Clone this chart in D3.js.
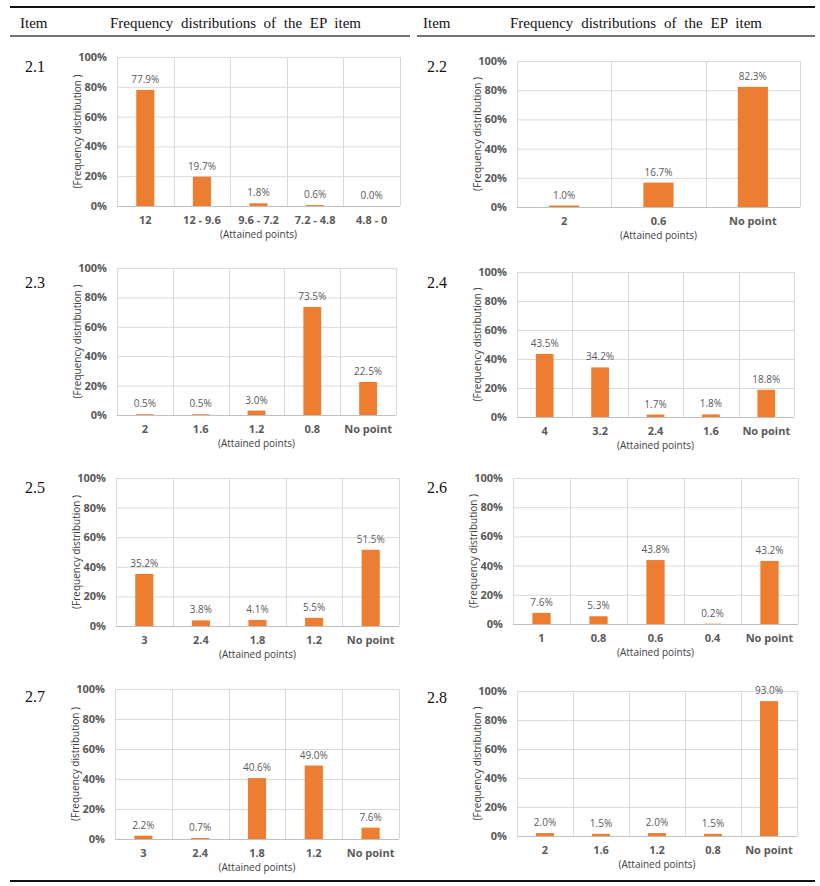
<!DOCTYPE html>
<html><head><meta charset="utf-8">
<script src="https://cdn.jsdelivr.net/npm/d3@7"></script>
<style>
body{margin:0;background:#fff;}
svg{display:block;}
</style></head>
<body>
<script>
// ---- data ----
const headerItem = "Item";
const headerTitle = "Frequency distributions of the EP item";
const yTitle = "(Frequency distribution )";
const xTitle = "(Attained points)";
const yTicks = [0, 20, 40, 60, 80, 100];

const items = ["2.1", "2.2", "2.3", "2.4", "2.5", "2.6", "2.7", "2.8"];
const cats21 = ["12", "12 - 9.6", "9.6 - 7.2", "7.2 - 4.8", "4.8 - 0"];
const vals21 = [77.9, 19.7, 1.8, 0.6, 0.0];
const cats22 = ["2", "0.6", "No point"];
const vals22 = [1.0, 16.7, 82.3];
const cats23 = ["2", "1.6", "1.2", "0.8", "No point"];
const vals23 = [0.5, 0.5, 3.0, 73.5, 22.5];
const cats24 = ["4", "3.2", "2.4", "1.6", "No point"];
const vals24 = [43.5, 34.2, 1.7, 1.8, 18.8];
const cats25 = ["3", "2.4", "1.8", "1.2", "No point"];
const vals25 = [35.2, 3.8, 4.1, 5.5, 51.5];
const cats26 = ["1", "0.8", "0.6", "0.4", "No point"];
const vals26 = [7.6, 5.3, 43.8, 0.2, 43.2];
const cats27 = ["3", "2.4", "1.8", "1.2", "No point"];
const vals27 = [2.2, 0.7, 40.6, 49.0, 7.6];
const cats28 = ["2", "1.6", "1.2", "0.8", "No point"];
const vals28 = [2.0, 1.5, 2.0, 1.5, 93.0];

const catsList = [cats21, cats22, cats23, cats24, cats25, cats26, cats27, cats28];
const valsList = [vals21, vals22, vals23, vals24, vals25, vals26, vals27, vals28];

// ---- layout ----
const W = 820, H = 886;
const panels = [
  {l:117, r:400, t:57,  b:206, ix:25,  iy:72},
  {l:517, r:800, t:61,  b:207, ix:427, iy:72},
  {l:117, r:396, t:268, b:415, ix:25,  iy:288},
  {l:517, r:794, t:272, b:417, ix:427, iy:288},
  {l:116, r:399, t:478, b:626, ix:25,  iy:493},
  {l:513, r:798, t:478, b:624, ix:427, iy:493},
  {l:115, r:399, t:689, b:839, ix:25,  iy:702},
  {l:517, r:797, t:691, b:836, ix:427, iy:703}
];
const orange = "#ED7D31";
const gray = "#595959";
const grid = "#d9d9d9";
const sans = "'Open Sans', 'Noto Sans', sans-serif";
const serif = "'Liberation Serif', 'Times New Roman', serif";

const svg = d3.select("body").append("svg").attr("width", W).attr("height", H);

// table rules
svg.append("line").attr("x1",10).attr("x2",815).attr("y1",7).attr("y2",7)
  .attr("stroke","#111").attr("stroke-width",2);
svg.append("line").attr("x1",10).attr("x2",410).attr("y1",36).attr("y2",36)
  .attr("stroke","#444").attr("stroke-width",1.5);
svg.append("line").attr("x1",417).attr("x2",815).attr("y1",36).attr("y2",36)
  .attr("stroke","#444").attr("stroke-width",1.5);
svg.append("line").attr("x1",10).attr("x2",815).attr("y1",881).attr("y2",881)
  .attr("stroke","#111").attr("stroke-width",2);

// headers
[{ix:20, tx:110, tw:251}, {ix:423, tx:510, tw:252}].forEach(h => {
  svg.append("text").attr("x",h.ix).attr("y",28).text(headerItem)
    .attr("font-family",serif).attr("font-size",15).attr("fill","#111");
  const t = svg.append("text").attr("x",h.tx).attr("y",28).text(headerTitle)
    .attr("font-family",serif).attr("font-size",15).attr("fill","#111");
  const len = t.node().getComputedTextLength();
  const spaces = headerTitle.split(" ").length - 1;
  t.attr("word-spacing", ((h.tw - len) / spaces).toFixed(2));
});

panels.forEach((p, i) => {
  const cats = catsList[i], vals = valsList[i];
  const g = svg.append("g");
  const x = d3.scaleBand().domain(cats).range([p.l, p.r]).paddingInner(0).paddingOuter(0);
  const y = d3.scaleLinear().domain([0, 100]).range([p.b, p.t]);

  // item label
  svg.append("text").attr("x",p.ix).attr("y",p.iy).text(items[i])
    .attr("font-family",serif).attr("font-size",16).attr("fill","#111");

  // horizontal grid
  g.selectAll("line.h").data(yTicks.filter(d => d > 0)).join("line")
    .attr("x1",p.l).attr("x2",p.r).attr("y1",d => y(d)+0.5).attr("y2",d => y(d)+0.5)
    .attr("stroke",grid).attr("stroke-width",1);
  // vertical separators
  const bounds = cats.map(c => x(c)).concat([p.r]);
  g.selectAll("line.v").data(bounds).join("line")
    .attr("x1",d => Math.round(d)+0.5).attr("x2",d => Math.round(d)+0.5)
    .attr("y1",p.t).attr("y2",p.b)
    .attr("stroke",grid).attr("stroke-width",1);
  // baseline
  g.append("line").attr("x1",p.l).attr("x2",p.r).attr("y1",y(0)+0.5).attr("y2",y(0)+0.5)
    .attr("stroke","#bfbfbf").attr("stroke-width",1);

  // y axis labels
  const ya = d3.axisLeft(y).tickValues(yTicks).tickFormat(d => d + "%").tickSize(0).tickPadding(10);
  const yg = g.append("g").attr("transform",`translate(${p.l},0)`).call(ya);
  yg.select(".domain").remove();
  yg.selectAll("text").attr("font-family",sans).attr("font-size",11).attr("font-weight","bold").attr("fill",gray);

  // x axis labels
  const xa = d3.axisBottom(x).tickSize(0).tickPadding(10);
  const xg = g.append("g").attr("transform",`translate(0,${p.b})`).call(xa);
  xg.select(".domain").remove();
  xg.selectAll("text").attr("font-family",sans).attr("font-size",11).attr("font-weight","bold").attr("fill",gray);

  // bars
  const bw = x.bandwidth() * 0.32;
  g.selectAll("rect.bar").data(vals).join("rect")
    .attr("x",(d,j) => x(cats[j]) + (x.bandwidth() - bw)/2)
    .attr("width",bw)
    .attr("y",d => y(d))
    .attr("height",d => y(0) - y(d))
    .attr("fill",orange);

  // value labels
  g.selectAll("text.val").data(vals).join("text")
    .attr("x",(d,j) => x(cats[j]) + x.bandwidth()/2)
    .attr("y",d => y(d) - 7)
    .attr("text-anchor","middle")
    .attr("font-family",sans).attr("font-size",10).attr("fill",gray)
    .text(d => d.toFixed(1) + "%");

  // axis titles
  g.append("text").attr("x",(p.l+p.r)/2).attr("y",p.b + 32)
    .attr("text-anchor","middle").attr("font-family",sans).attr("font-size",10).attr("fill","#404040")
    .text(xTitle);
  g.append("text").attr("transform",`translate(${p.l - 36},${(p.t+p.b)/2}) rotate(-90)`)
    .attr("text-anchor","middle").attr("font-family",sans).attr("font-size",10).attr("fill","#404040")
    .text(yTitle);
});
</script>
</body></html>
